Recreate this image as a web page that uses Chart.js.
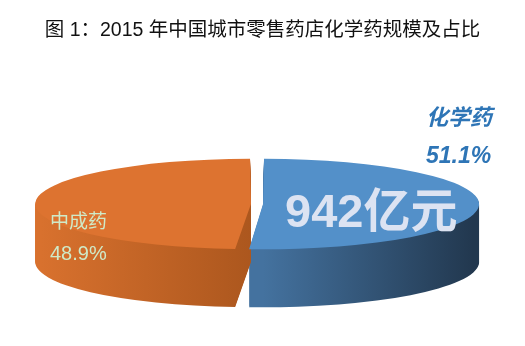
<!DOCTYPE html>
<html>
<head>
<meta charset="utf-8">
<script src="https://cdn.jsdelivr.net/npm/chart.js@4/dist/chart.umd.min.js"></script>
<style>
    body { margin: 0; background: #fff; }
    #wrap { width: 525px; height: 346px; position: relative; }
</style>
</head>
<body>
<div id="wrap"><canvas id="myCanvas"></canvas></div>
<script>
let titleText = '图 1：2015 年中国城市零售药店化学药规模及占比';
let categories = ['化学药', '中成药'];
let shares = [51.1, 48.9];
let amountText = '942亿元';

// where the 3D pie sits on the page
const CX = 257, CY = 204, RX = 210, RY = 44, DEPTH = 58;
let topColors = ['#5390C9', '#DD7330'];
let sideColors = [['#44729F', '#22384F'], ['#D8712E', '#AC571E']];

let setView = (ctx, arc, dy) => {
    let s = RX / arc.outerRadius;
    ctx.translate(CX, CY + dy);
    ctx.scale(s, s * RY / RX);
    ctx.translate(-arc.x, -arc.y);
}

let pie3d = {
    id: 'pie3d',
    beforeDatasetsDraw(chart) {
        let ctx = chart.ctx;
        let arcs = chart.getDatasetMeta(0).data;
        arcs.forEach((arc, i) => {
            for (let d = DEPTH; d > 0; d--) {
                ctx.save();
                setView(ctx, arc, d);
                let x0 = i === 1 ? arc.x - arc.outerRadius : arc.x;
                let x1 = i === 1 ? arc.x : arc.x + arc.outerRadius;
                let g = ctx.createLinearGradient(x0, 0, x1, 0);
                g.addColorStop(0, sideColors[i][0]);
                g.addColorStop(1, sideColors[i][1]);
                let side = Object.create(arc);
                side.options = Object.assign({}, arc.options, { backgroundColor: g, borderWidth: 0 });
                arc.draw.call(side, ctx);
                ctx.restore();
            }
        });
        ctx.save();
        setView(ctx, arcs[0], 0);
    },
    afterDatasetsDraw(chart) {
        let ctx = chart.ctx;
        ctx.restore();

        ctx.save();
        // big amount on the blue slice
        ctx.fillStyle = '#DCE3F2';
        ctx.font = "bold 47px 'Liberation Sans', 'Noto Sans CJK SC'";
        ctx.textBaseline = 'alphabetic';
        ctx.fillText(amountText, 285, 227);

        // 化学药 label, outside right
        ctx.fillStyle = '#2E75B6';
        ctx.font = "italic bold 22px 'Noto Sans CJK SC'";
        ctx.fillText(categories[0], 426, 125);
        ctx.font = "italic bold 23px 'Liberation Sans', 'Noto Sans CJK SC'";
        ctx.fillText(`${shares[0].toFixed(1)}%`, 426, 163);

        // 中成药 label, on the orange slice
        ctx.fillStyle = '#CFEAC8';
        ctx.font = "19px 'Noto Sans CJK SC'";
        ctx.fillText(categories[1], 50, 228);
        ctx.font = "20px 'Liberation Sans', 'Noto Sans CJK SC'";
        ctx.fillText(`${shares[1].toFixed(1)}%`, 50, 260);
        ctx.restore();
    }
};

let grafica = document.getElementById('myCanvas').getContext('2d');
let myChart = new Chart(grafica, {
    type: 'pie',
    data: {
        labels: categories,
        datasets: [{
            data: shares,
            backgroundColor: topColors,
            borderWidth: 0,
            offset: 16,
            hoverOffset: 0,
            clip: false
        }]
    },
    options: {
        responsive: true,
        maintainAspectRatio: false,
        animation: false,
        events: [],
        plugins: {
            legend: { display: false },
            tooltip: { enabled: false },
            title: {
                display: true,
                text: titleText,
                color: '#111',
                font: { family: "'Liberation Sans', 'Noto Sans CJK SC'", size: 19.5, weight: 'normal', lineHeight: 1.2 },
                padding: { top: 19, bottom: 10 }
            }
        }
    },
    plugins: [pie3d]
});
</script>
</body>
</html>
